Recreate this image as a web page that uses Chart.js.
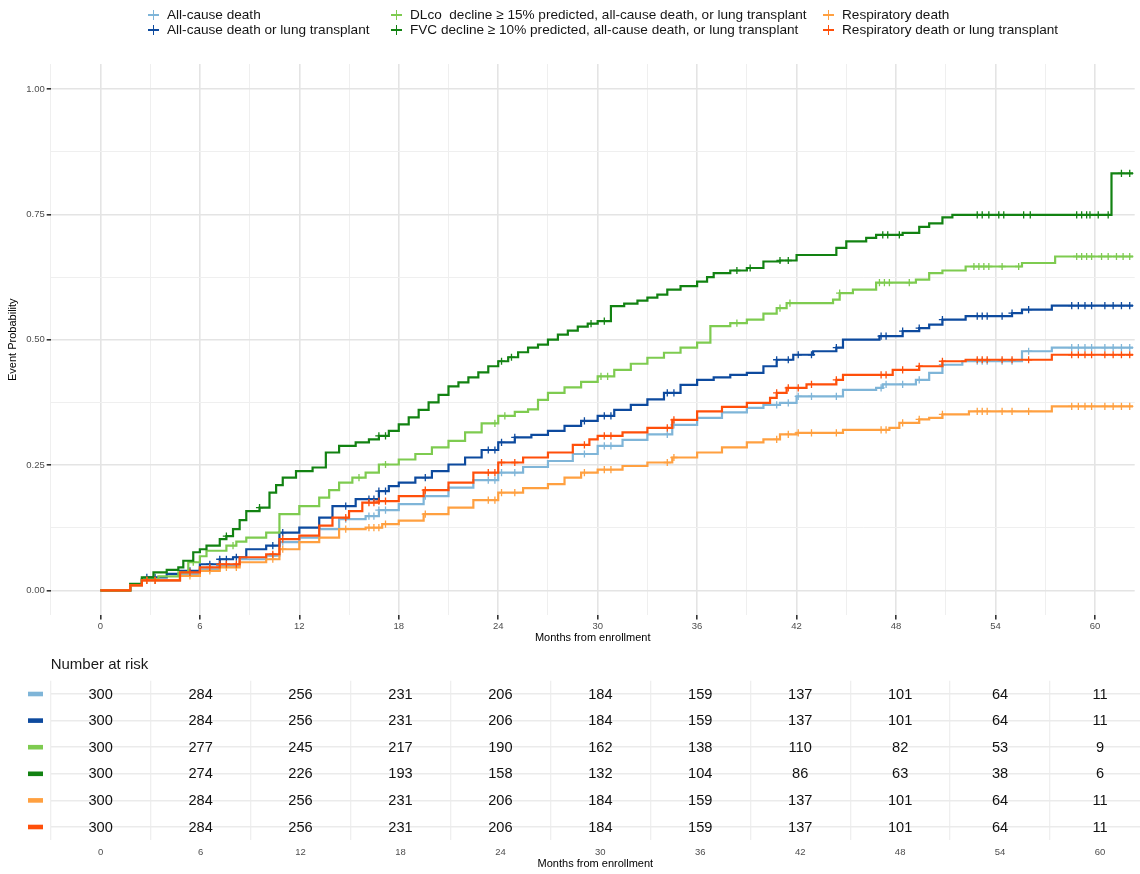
<!DOCTYPE html>
<html>
<head>
<meta charset="utf-8">
<script src="https://cdn.jsdelivr.net/npm/chart.js@4.4.1/dist/chart.umd.min.js"></script>
<style>
  body { margin: 0; background: #fff; font-family: "Liberation Sans", Arial, sans-serif; }
  #wrap { position: relative; width: 1140px; height: 874px; overflow: hidden; }
  #main { position: absolute; left: 0; top: 0; }
  #risk { position: absolute; left: 0; top: 650px; }
  .lg { position: absolute; font-size: 13.6px; color: #151515; white-space: pre; line-height: 16px; }
  .cross { position: absolute; width: 11px; height: 10px; }
  .cross::before { content: ""; position: absolute; left: 0; top: 4.1px; width: 11px; height: 1.8px; background: currentColor; }
  .cross::after { content: ""; position: absolute; left: 4.6px; top: 0; width: 1.8px; height: 10px; background: currentColor; }
</style>
</head>
<body>
<div id="wrap">
  <canvas id="main" width="1140" height="650"></canvas>
  <canvas id="risk" width="1140" height="224"></canvas>
  <div id="legend"></div>
</div>
<script>
// series names / colours
const seriesNames = [
  'All-cause death',
  'All-cause death or lung transplant',
  'DLco  decline \u2265 15% predicted, all-cause death, or lung transplant',
  'FVC decline \u2265 10% predicted, all-cause death, or lung transplant',
  'Respiratory death',
  'Respiratory death or lung transplant'
];
const seriesColors = ['#7fb5d8', '#0d4a9e', '#7ecb50', '#128212', '#ffa040', '#ff4f0a'];

// cumulative event probability, step points (months, probability)
const allCauseT = [0, 1.8, 2.5, 4.8, 6.0, 7.2, 8.4, 10.0, 10.8, 12.0, 13.2, 14.4, 16.0, 16.8, 18.0, 19.5, 21.0, 22.5, 24.0, 25.5, 27.0, 28.5, 30.0, 31.5, 33.0, 34.5, 36.0, 37.5, 39.0, 40.0, 41.0, 42.0, 44.8, 46.8, 47.2, 49.2, 50.0, 50.8, 52.0, 55.6, 57.4, 62.3];
const allCauseP = [0, 0.01, 0.02, 0.033, 0.042, 0.049, 0.062, 0.069, 0.096, 0.105, 0.122, 0.142, 0.148, 0.16, 0.172, 0.188, 0.205, 0.22, 0.235, 0.246, 0.258, 0.272, 0.288, 0.3, 0.311, 0.33, 0.344, 0.355, 0.364, 0.37, 0.374, 0.387, 0.4, 0.404, 0.411, 0.42, 0.434, 0.45, 0.457, 0.477, 0.484, 0.484];

const allCauseLtT = [0, 1.8, 2.5, 2.8, 4.0, 4.8, 6.0, 7.2, 8.0, 8.8, 10.0, 10.8, 12.0, 13.2, 14.0, 15.4, 16.8, 17.4, 18.0, 19.0, 20.0, 21.0, 22.0, 23.0, 24.0, 25.0, 26.0, 27.0, 28.0, 29.0, 30.0, 31.0, 32.0, 33.0, 34.0, 35.0, 36.0, 37.0, 38.0, 39.0, 40.0, 40.8, 41.8, 43.0, 44.4, 44.8, 47.0, 48.4, 49.4, 50.0, 50.8, 52.2, 55.0, 55.6, 57.4, 62.3];
const allCauseLtP = [0, 0.012, 0.022, 0.026, 0.033, 0.039, 0.052, 0.062, 0.066, 0.082, 0.089, 0.115, 0.125, 0.145, 0.168, 0.182, 0.198, 0.208, 0.215, 0.225, 0.238, 0.251, 0.265, 0.28, 0.295, 0.305, 0.31, 0.318, 0.328, 0.338, 0.348, 0.36, 0.37, 0.381, 0.394, 0.41, 0.42, 0.425, 0.43, 0.434, 0.447, 0.46, 0.47, 0.477, 0.484, 0.5, 0.507, 0.517, 0.523, 0.53, 0.54, 0.547, 0.553, 0.56, 0.568, 0.568];

const dlcoT = [0, 1.8, 2.5, 3.5, 4.7, 5.3, 6.0, 6.4, 7.6, 8.2, 8.8, 10.0, 10.8, 12.0, 13.2, 13.8, 14.4, 15.2, 16.0, 16.8, 18.0, 19.0, 20.0, 21.0, 22.0, 23.0, 24.0, 25.0, 25.8, 26.4, 27.0, 28.0, 29.0, 30.0, 31.0, 32.0, 33.0, 34.0, 35.0, 36.0, 36.8, 38.0, 39.0, 40.0, 40.8, 41.4, 44.2, 44.6, 45.4, 46.8, 49.2, 50.0, 50.8, 52.2, 55.6, 57.6, 62.3];
const dlcoP = [0, 0.012, 0.022, 0.028, 0.036, 0.056, 0.068, 0.079, 0.089, 0.097, 0.105, 0.115, 0.152, 0.168, 0.185, 0.2, 0.215, 0.225, 0.235, 0.251, 0.261, 0.272, 0.285, 0.298, 0.315, 0.333, 0.348, 0.356, 0.361, 0.38, 0.394, 0.405, 0.416, 0.427, 0.44, 0.452, 0.464, 0.474, 0.484, 0.494, 0.527, 0.533, 0.54, 0.552, 0.563, 0.573, 0.58, 0.593, 0.6, 0.614, 0.62, 0.633, 0.638, 0.646, 0.653, 0.666, 0.666];

const fvcT = [0, 1.8, 2.5, 3.2, 4.0, 4.7, 5.0, 5.6, 6.0, 6.4, 7.2, 7.6, 8.0, 8.4, 8.8, 9.6, 10.2, 10.6, 11.0, 11.8, 12.8, 13.6, 14.4, 15.4, 16.2, 16.8, 17.4, 18.0, 18.6, 19.2, 19.8, 20.4, 21.0, 21.6, 22.2, 22.8, 23.4, 24.0, 24.6, 25.2, 25.8, 26.4, 27.0, 27.6, 28.2, 28.8, 29.4, 30.0, 30.8, 31.6, 32.4, 33.0, 33.6, 34.2, 35.0, 36.0, 36.6, 37.0, 38.0, 39.0, 40.0, 41.0, 42.0, 44.4, 45.0, 46.2, 46.8, 48.4, 49.4, 50.0, 50.8, 51.4, 61.0, 62.3];
const fvcP = [0, 0.013, 0.026, 0.036, 0.041, 0.046, 0.059, 0.076, 0.082, 0.089, 0.102, 0.108, 0.122, 0.14, 0.158, 0.165, 0.195, 0.21, 0.225, 0.238, 0.245, 0.275, 0.288, 0.295, 0.301, 0.308, 0.318, 0.331, 0.345, 0.36, 0.375, 0.39, 0.407, 0.415, 0.425, 0.435, 0.447, 0.457, 0.465, 0.475, 0.484, 0.49, 0.5, 0.51, 0.518, 0.526, 0.532, 0.537, 0.567, 0.572, 0.578, 0.584, 0.59, 0.6, 0.607, 0.616, 0.625, 0.633, 0.638, 0.643, 0.656, 0.658, 0.669, 0.683, 0.696, 0.703, 0.709, 0.713, 0.725, 0.732, 0.744, 0.749, 0.832, 0.832];

const respT = [0, 1.8, 2.5, 4.8, 6.0, 7.2, 8.4, 10.0, 10.8, 12.0, 13.2, 14.4, 16.0, 17.0, 18.0, 19.5, 21.0, 22.5, 24.0, 25.5, 27.0, 28.0, 29.0, 30.0, 31.5, 33.0, 34.5, 36.0, 37.5, 39.0, 40.0, 41.0, 42.0, 44.8, 47.6, 48.2, 49.4, 50.0, 50.8, 52.4, 57.4, 62.3];
const respP = [0, 0.01, 0.02, 0.029, 0.039, 0.046, 0.056, 0.062, 0.082, 0.096, 0.105, 0.122, 0.125, 0.132, 0.139, 0.152, 0.165, 0.18, 0.195, 0.204, 0.212, 0.225, 0.235, 0.241, 0.248, 0.255, 0.265, 0.275, 0.285, 0.295, 0.301, 0.311, 0.314, 0.32, 0.324, 0.334, 0.341, 0.344, 0.351, 0.357, 0.367, 0.367];

const respLtT = [0, 1.8, 2.5, 4.8, 6.0, 7.2, 8.4, 10.0, 10.8, 12.0, 13.2, 14.0, 15.0, 15.8, 16.8, 18.0, 19.5, 21.0, 22.5, 24.0, 25.5, 27.0, 28.5, 29.5, 30.0, 31.5, 33.0, 34.5, 36.0, 37.5, 39.0, 40.4, 40.8, 41.4, 42.6, 44.4, 44.8, 47.8, 49.4, 50.8, 52.2, 57.4, 62.3];
const respLtP = [0, 0.01, 0.02, 0.036, 0.046, 0.052, 0.066, 0.072, 0.102, 0.109, 0.129, 0.145, 0.158, 0.175, 0.178, 0.188, 0.2, 0.215, 0.235, 0.255, 0.265, 0.275, 0.29, 0.301, 0.308, 0.315, 0.324, 0.34, 0.357, 0.366, 0.374, 0.384, 0.394, 0.404, 0.411, 0.42, 0.43, 0.44, 0.447, 0.457, 0.46, 0.47, 0.47];

// censoring times (months)
const censorCommon = [2.8, 3.3, 5.4, 6.6, 7.2, 7.6, 8.2, 10.4, 11.0, 14.8, 16.2, 16.5, 16.8, 17.2, 19.6, 23.4, 23.8, 24.2, 25.0, 29.2, 30.4, 30.8, 34.2, 34.6, 40.8, 41.5, 42.1, 42.9, 44.4, 47.1, 47.4, 48.4, 49.4, 50.8, 52.9, 53.2, 53.5, 54.4, 55.0, 56.0, 58.6, 59.0, 59.4, 59.8, 60.6, 61.1, 61.6, 62.1];
const censorDlco = [5.6, 8.0, 15.6, 17.2, 23.8, 24.4, 30.2, 30.6, 38.4, 41.0, 41.6, 44.6, 47.0, 47.3, 47.6, 48.8, 52.7, 53.0, 53.3, 53.6, 54.4, 55.4, 58.9, 59.2, 59.5, 59.8, 60.4, 60.8, 61.3, 61.7, 62.1];
const censorFvc = [7.6, 9.6, 16.8, 17.2, 24.2, 24.8, 29.6, 30.4, 38.4, 39.2, 41.0, 41.5, 47.2, 47.5, 48.2, 52.9, 53.2, 53.6, 54.2, 54.5, 55.7, 56.1, 58.9, 59.2, 59.5, 59.7, 60.2, 60.8, 61.6, 62.1];

// number at risk
const riskTimes = [0, 6, 12, 18, 24, 30, 36, 42, 48, 54, 60];
const riskAllCause = [300, 284, 256, 231, 206, 184, 159, 137, 101, 64, 11];
const riskAllCauseLt = [300, 284, 256, 231, 206, 184, 159, 137, 101, 64, 11];
const riskDlco = [300, 277, 245, 217, 190, 162, 138, 110, 82, 53, 9];
const riskFvc = [300, 274, 226, 193, 158, 132, 104, 86, 63, 38, 6];
const riskResp = [300, 284, 256, 231, 206, 184, 159, 137, 101, 64, 11];
const riskRespLt = [300, 284, 256, 231, 206, 184, 159, 137, 101, 64, 11];

// axis ticks
const xTickLabels = [0, 6, 12, 18, 24, 30, 36, 42, 48, 54, 60];
const xGridTicks = [-3, 0, 3, 6, 9, 12, 15, 18, 21, 24, 27, 30, 33, 36, 39, 42, 45, 48, 51, 54, 57, 60];
const yTickLabels = [0, 0.25, 0.5, 0.75, 1];
const yGridTicks = [0, 0.125, 0.25, 0.375, 0.5, 0.625, 0.75, 0.875, 1];

const series = [
  { t: allCauseT, p: allCauseP, c: censorCommon, risk: riskAllCause },
  { t: allCauseLtT, p: allCauseLtP, c: censorCommon, risk: riskAllCauseLt },
  { t: dlcoT, p: dlcoP, c: censorDlco, risk: riskDlco },
  { t: fvcT, p: fvcP, c: censorFvc, risk: riskFvc },
  { t: respT, p: respP, c: censorCommon, risk: riskResp },
  { t: respLtT, p: respLtP, c: censorCommon, risk: riskRespLt }
];

function stepAt(ts, ps, t) {
  let v = 0;
  for (let i = 0; i < ts.length; i++) if (ts[i] <= t) v = ps[i];
  return v;
}

Chart.defaults.font.family = '"Liberation Sans", Arial, sans-serif';

// legend (3 columns x 2 rows)
const legendColX = [148, 391, 823];
const legendRowY = [15, 30];
const legendEl = document.getElementById('legend');
seriesNames.forEach((name, i) => {
  const col = Math.floor(i / 2), row = i % 2;
  const cr = document.createElement('span');
  cr.className = 'cross';
  cr.style.color = seriesColors[i];
  cr.style.left = legendColX[col] + 'px';
  cr.style.top = (legendRowY[row] - 5) + 'px';
  legendEl.appendChild(cr);
  const tx = document.createElement('span');
  tx.className = 'lg';
  tx.textContent = name;
  tx.style.left = (legendColX[col] + 19) + 'px';
  tx.style.top = (legendRowY[row] - 8) + 'px';
  legendEl.appendChild(tx);
});

// main plot datasets, later groups drawn on top
const datasets = [];
for (let i = series.length - 1; i >= 0; i--) {
  const s = series[i];
  datasets.push({
    label: seriesNames[i] + ' (censored)',
    data: s.c.map(t => ({ x: t, y: stepAt(s.t, s.p, t) })),
    showLine: false,
    pointStyle: 'cross',
    pointRadius: 3.6,
    pointBorderWidth: 1.3,
    borderColor: seriesColors[i],
    backgroundColor: seriesColors[i]
  });
  datasets.push({
    label: seriesNames[i],
    data: s.t.map((t, j) => ({ x: t, y: s.p[j] })),
    stepped: true,
    borderColor: seriesColors[i],
    borderWidth: 2.2,
    pointRadius: 0,
    fill: false
  });
}

const isMajorX = v => v % 6 === 0;
const isMajorY = v => Math.abs(v * 4 - Math.round(v * 4)) < 1e-9;

new Chart(document.getElementById('main'), {
  type: 'line',
  data: { datasets },
  options: {
    responsive: false,
    animation: false,
    layout: { padding: { top: 64, left: 0, right: 0, bottom: 0 } },
    plugins: { legend: { display: false }, tooltip: { enabled: false } },
    scales: {
      x: {
        type: 'linear', min: -3, max: 62.4,
        border: { display: false },
        afterBuildTicks: s => { s.ticks = xGridTicks.map(v => ({ value: v })); },
        afterFit: s => { s.height = 34.6; },
        ticks: {
          autoSkip: false, maxRotation: 0, padding: 1, color: '#4d4d4d', font: { size: 9.5 },
          callback: v => xTickLabels.includes(v) ? String(v) : ''
        },
        grid: {
          color: c => isMajorX(c.tick.value) ? '#e4e4e4' : '#efefef',
          lineWidth: c => isMajorX(c.tick.value) ? 1.6 : 1,
          tickLength: 4,
          tickWidth: 1.6,
          tickColor: c => isMajorX(c.tick.value) ? '#333' : 'rgba(0,0,0,0)'
        },
        title: { display: true, text: 'Months from enrollment', color: '#000', font: { size: 11 }, padding: { top: 0, bottom: 5 } }
      },
      y: {
        type: 'linear', min: -0.05, max: 1.05,
        border: { display: false },
        afterBuildTicks: s => { s.ticks = yGridTicks.map(v => ({ value: v })); },
        afterFit: s => { s.width = 50.7; },
        ticks: {
          autoSkip: false, padding: 2, color: '#4d4d4d', font: { size: 9.5 },
          callback: v => yTickLabels.some(t => Math.abs(t - v) < 1e-9) ? v.toFixed(2) : ''
        },
        grid: {
          color: c => isMajorY(c.tick.value) ? '#e4e4e4' : '#efefef',
          lineWidth: c => isMajorY(c.tick.value) ? 1.6 : 1,
          tickLength: 4,
          tickWidth: 1.6,
          tickColor: c => isMajorY(c.tick.value) ? '#333' : 'rgba(0,0,0,0)'
        },
        title: { display: true, text: 'Event Probability', color: '#000', font: { size: 11 }, padding: { top: 6, bottom: 0 } }
      }
    }
  }
});

// number-at-risk table
const riskPlugin = {
  id: 'riskText',
  afterDatasetsDraw(chart) {
    const ctx = chart.ctx;
    const yScale = chart.scales.y;
    ctx.save();
    ctx.fillStyle = '#1a1a1a';
    ctx.font = '15px "Liberation Sans", Arial, sans-serif';
    ctx.textAlign = 'left';
    ctx.textBaseline = 'middle';
    ctx.fillText('Number at risk', chart.chartArea.left, 15);
    series.forEach((s, i) => {
      const yc = yScale.getPixelForValue(i);
      ctx.fillStyle = seriesColors[i];
      ctx.fillRect(28, yc - 2.3, 15, 4.6);
      const meta = chart.getDatasetMeta(i);
      ctx.fillStyle = '#111';
      ctx.font = '14.6px "Liberation Sans", Arial, sans-serif';
      ctx.textAlign = 'center';
      meta.data.forEach((el, j) => {
        ctx.fillText(String(s.risk[j]), el.x, el.y + 0.5);
      });
    });
    ctx.restore();
  }
};

new Chart(document.getElementById('risk'), {
  type: 'scatter',
  data: {
    datasets: series.map((s, i) => ({
      label: seriesNames[i],
      data: riskTimes.map(t => ({ x: t, y: seriesNames[i] })),
      pointRadius: 0
    }))
  },
  options: {
    responsive: false,
    animation: false,
    layout: { padding: { top: 30.7, left: 0, right: 0, bottom: 0 } },
    plugins: { legend: { display: false }, tooltip: { enabled: false } },
    scales: {
      x: {
        type: 'linear', min: -3, max: 62.4,
        border: { display: false },
        afterBuildTicks: s => { s.ticks = xGridTicks.map(v => ({ value: v })); },
        afterFit: s => { s.height = 33.7; },
        ticks: {
          autoSkip: false, maxRotation: 0, padding: 6, color: '#4d4d4d', font: { size: 9.5 },
          callback: v => xTickLabels.includes(v) ? String(v) : ''
        },
        grid: {
          drawTicks: false,
          color: c => isMajorX(c.tick.value) ? 'rgba(0,0,0,0)' : '#efefef',
          lineWidth: 1.3
        },
        title: { display: true, text: 'Months from enrollment', color: '#000', font: { size: 11 }, padding: { top: 0, bottom: 3.4 } }
      },
      y: {
        type: 'category',
        labels: seriesNames,
        offset: true,
        border: { display: false },
        afterFit: s => { s.width = 50.7; },
        ticks: { display: false },
        grid: { offset: false, drawTicks: false, color: '#ebebeb', lineWidth: 1.5 }
      }
    }
  },
  plugins: [riskPlugin]
});
</script>
</body>
</html>
